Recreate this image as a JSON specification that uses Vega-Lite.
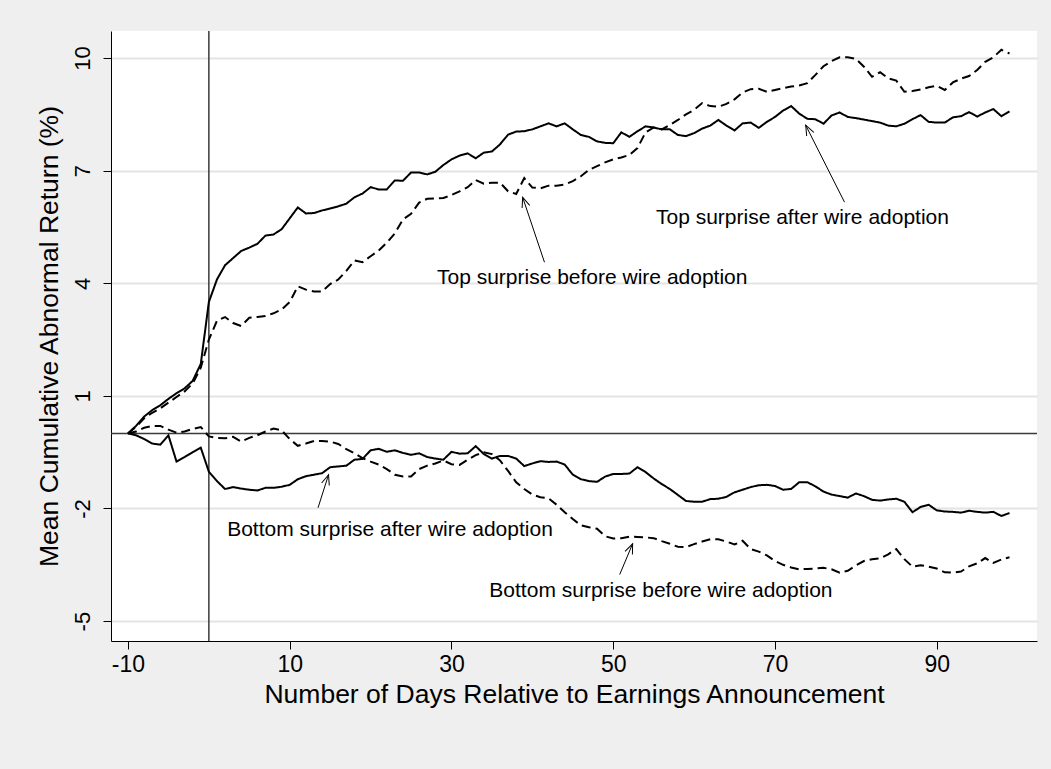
{
  "$schema": "https://vega.github.io/schema/vega-lite/v6.json",
  "width": 926,
  "height": 610,
  "autosize": {"type": "none"},
  "padding": {"left": 111, "top": 31, "right": 14, "bottom": 128},
  "background": "#efefef",
  "config": {
    "view": {"fill": "white", "stroke": null},
    "font": "Liberation Sans"
  },
  "datasets": {
    "series": [
      {"day":-10,"ta":0,"tb":0,"ba":0,"bb":0},
      {"day":-9,"ta":0.2,"tb":0.18,"ba":-0.05,"bb":0.05},
      {"day":-8,"ta":0.45,"tb":0.4,"ba":-0.15,"bb":0.15},
      {"day":-7,"ta":0.62,"tb":0.55,"ba":-0.27,"bb":0.2},
      {"day":-6,"ta":0.75,"tb":0.67,"ba":-0.3,"bb":0.2},
      {"day":-5,"ta":0.92,"tb":0.82,"ba":-0.05,"bb":0.1},
      {"day":-4,"ta":1.07,"tb":0.97,"ba":-0.75,"bb":0.02},
      {"day":-3,"ta":1.2,"tb":1.12,"ba":-0.63,"bb":0.05},
      {"day":-2,"ta":1.4,"tb":1.33,"ba":-0.5,"bb":0.12},
      {"day":-1,"ta":1.85,"tb":1.75,"ba":-0.38,"bb":0.17},
      {"day":0,"ta":3.5,"tb":2.5,"ba":-1.02,"bb":-0.08},
      {"day":1,"ta":4.1,"tb":3.0,"ba":-1.27,"bb":-0.12},
      {"day":2,"ta":4.48,"tb":3.1,"ba":-1.48,"bb":-0.13},
      {"day":3,"ta":4.67,"tb":2.94,"ba":-1.43,"bb":-0.09},
      {"day":4,"ta":4.86,"tb":2.86,"ba":-1.47,"bb":-0.22},
      {"day":5,"ta":4.95,"tb":3.08,"ba":-1.5,"bb":-0.12},
      {"day":6,"ta":5.05,"tb":3.1,"ba":-1.52,"bb":-0.05},
      {"day":7,"ta":5.27,"tb":3.13,"ba":-1.45,"bb":0.05},
      {"day":8,"ta":5.3,"tb":3.2,"ba":-1.45,"bb":0.13},
      {"day":9,"ta":5.44,"tb":3.3,"ba":-1.42,"bb":0.08},
      {"day":10,"ta":5.73,"tb":3.5,"ba":-1.37,"bb":-0.15},
      {"day":11,"ta":6.02,"tb":3.92,"ba":-1.22,"bb":-0.33},
      {"day":12,"ta":5.86,"tb":3.83,"ba":-1.14,"bb":-0.27},
      {"day":13,"ta":5.87,"tb":3.78,"ba":-1.1,"bb":-0.2},
      {"day":14,"ta":5.94,"tb":3.78,"ba":-1.06,"bb":-0.2},
      {"day":15,"ta":5.99,"tb":3.98,"ba":-0.9,"bb":-0.22},
      {"day":16,"ta":6.05,"tb":4.1,"ba":-0.88,"bb":-0.28},
      {"day":17,"ta":6.12,"tb":4.33,"ba":-0.86,"bb":-0.42},
      {"day":18,"ta":6.29,"tb":4.61,"ba":-0.7,"bb":-0.53},
      {"day":19,"ta":6.39,"tb":4.56,"ba":-0.68,"bb":-0.66},
      {"day":20,"ta":6.56,"tb":4.72,"ba":-0.45,"bb":-0.75},
      {"day":21,"ta":6.5,"tb":4.87,"ba":-0.41,"bb":-0.83},
      {"day":22,"ta":6.5,"tb":5.08,"ba":-0.49,"bb":-0.95},
      {"day":23,"ta":6.74,"tb":5.33,"ba":-0.45,"bb":-1.1},
      {"day":24,"ta":6.73,"tb":5.7,"ba":-0.52,"bb":-1.15},
      {"day":25,"ta":6.95,"tb":5.85,"ba":-0.57,"bb":-1.15},
      {"day":26,"ta":6.95,"tb":6.15,"ba":-0.53,"bb":-0.95},
      {"day":27,"ta":6.9,"tb":6.25,"ba":-0.63,"bb":-0.86},
      {"day":28,"ta":6.97,"tb":6.26,"ba":-0.67,"bb":-0.8},
      {"day":29,"ta":7.15,"tb":6.27,"ba":-0.7,"bb":-0.72},
      {"day":30,"ta":7.3,"tb":6.35,"ba":-0.49,"bb":-0.82},
      {"day":31,"ta":7.4,"tb":6.45,"ba":-0.54,"bb":-0.84},
      {"day":32,"ta":7.46,"tb":6.56,"ba":-0.53,"bb":-0.7},
      {"day":33,"ta":7.33,"tb":6.75,"ba":-0.34,"bb":-0.58},
      {"day":34,"ta":7.48,"tb":6.65,"ba":-0.55,"bb":-0.5},
      {"day":35,"ta":7.51,"tb":6.68,"ba":-0.67,"bb":-0.55},
      {"day":36,"ta":7.7,"tb":6.68,"ba":-0.6,"bb":-0.72},
      {"day":37,"ta":7.96,"tb":6.45,"ba":-0.6,"bb":-1.0},
      {"day":38,"ta":8.04,"tb":6.38,"ba":-0.67,"bb":-1.3},
      {"day":39,"ta":8.05,"tb":6.8,"ba":-0.87,"bb":-1.48},
      {"day":40,"ta":8.1,"tb":6.55,"ba":-0.8,"bb":-1.63},
      {"day":41,"ta":8.18,"tb":6.53,"ba":-0.74,"bb":-1.7},
      {"day":42,"ta":8.26,"tb":6.6,"ba":-0.76,"bb":-1.73},
      {"day":43,"ta":8.18,"tb":6.6,"ba":-0.75,"bb":-1.9},
      {"day":44,"ta":8.26,"tb":6.63,"ba":-0.83,"bb":-2.1},
      {"day":45,"ta":8.1,"tb":6.72,"ba":-1.1,"bb":-2.28},
      {"day":46,"ta":7.95,"tb":6.85,"ba":-1.22,"bb":-2.45},
      {"day":47,"ta":7.9,"tb":7.02,"ba":-1.27,"bb":-2.5},
      {"day":48,"ta":7.78,"tb":7.12,"ba":-1.29,"bb":-2.54},
      {"day":49,"ta":7.74,"tb":7.22,"ba":-1.15,"bb":-2.74},
      {"day":50,"ta":7.73,"tb":7.3,"ba":-1.08,"bb":-2.8},
      {"day":51,"ta":8.02,"tb":7.35,"ba":-1.08,"bb":-2.79},
      {"day":52,"ta":7.9,"tb":7.42,"ba":-1.07,"bb":-2.75},
      {"day":53,"ta":8.05,"tb":7.6,"ba":-0.9,"bb":-2.76},
      {"day":54,"ta":8.18,"tb":8.02,"ba":-1.03,"bb":-2.77},
      {"day":55,"ta":8.15,"tb":8.15,"ba":-1.2,"bb":-2.79},
      {"day":56,"ta":8.1,"tb":8.1,"ba":-1.35,"bb":-2.87},
      {"day":57,"ta":8.1,"tb":8.22,"ba":-1.48,"bb":-2.94},
      {"day":58,"ta":7.95,"tb":8.35,"ba":-1.64,"bb":-3.02},
      {"day":59,"ta":7.92,"tb":8.5,"ba":-1.8,"bb":-3.03},
      {"day":60,"ta":8.0,"tb":8.62,"ba":-1.82,"bb":-2.95},
      {"day":61,"ta":8.12,"tb":8.8,"ba":-1.82,"bb":-2.88},
      {"day":62,"ta":8.2,"tb":8.72,"ba":-1.75,"bb":-2.82},
      {"day":63,"ta":8.35,"tb":8.7,"ba":-1.74,"bb":-2.82},
      {"day":64,"ta":8.2,"tb":8.78,"ba":-1.69,"bb":-2.88},
      {"day":65,"ta":8.07,"tb":8.9,"ba":-1.57,"bb":-2.96},
      {"day":66,"ta":8.26,"tb":9.08,"ba":-1.5,"bb":-2.86},
      {"day":67,"ta":8.28,"tb":9.17,"ba":-1.43,"bb":-3.08},
      {"day":68,"ta":8.14,"tb":9.18,"ba":-1.38,"bb":-3.15},
      {"day":69,"ta":8.3,"tb":9.1,"ba":-1.37,"bb":-3.25},
      {"day":70,"ta":8.43,"tb":9.15,"ba":-1.4,"bb":-3.4},
      {"day":71,"ta":8.6,"tb":9.2,"ba":-1.5,"bb":-3.5},
      {"day":72,"ta":8.72,"tb":9.24,"ba":-1.48,"bb":-3.57},
      {"day":73,"ta":8.52,"tb":9.27,"ba":-1.3,"bb":-3.62},
      {"day":74,"ta":8.38,"tb":9.33,"ba":-1.3,"bb":-3.61},
      {"day":75,"ta":8.37,"tb":9.55,"ba":-1.41,"bb":-3.6},
      {"day":76,"ta":8.25,"tb":9.78,"ba":-1.55,"bb":-3.58},
      {"day":77,"ta":8.47,"tb":9.92,"ba":-1.63,"bb":-3.62},
      {"day":78,"ta":8.55,"tb":10.02,"ba":-1.67,"bb":-3.71},
      {"day":79,"ta":8.43,"tb":10.02,"ba":-1.71,"bb":-3.66},
      {"day":80,"ta":8.4,"tb":9.98,"ba":-1.6,"bb":-3.52},
      {"day":81,"ta":8.36,"tb":9.77,"ba":-1.67,"bb":-3.4},
      {"day":82,"ta":8.32,"tb":9.5,"ba":-1.77,"bb":-3.35},
      {"day":83,"ta":8.28,"tb":9.62,"ba":-1.79,"bb":-3.33},
      {"day":84,"ta":8.2,"tb":9.46,"ba":-1.76,"bb":-3.22},
      {"day":85,"ta":8.18,"tb":9.4,"ba":-1.74,"bb":-3.08},
      {"day":86,"ta":8.25,"tb":9.1,"ba":-1.82,"bb":-3.35},
      {"day":87,"ta":8.37,"tb":9.12,"ba":-2.1,"bb":-3.55},
      {"day":88,"ta":8.48,"tb":9.16,"ba":-1.96,"bb":-3.51},
      {"day":89,"ta":8.3,"tb":9.22,"ba":-1.9,"bb":-3.55},
      {"day":90,"ta":8.28,"tb":9.26,"ba":-2.05,"bb":-3.6},
      {"day":91,"ta":8.28,"tb":9.15,"ba":-2.08,"bb":-3.7},
      {"day":92,"ta":8.42,"tb":9.35,"ba":-2.09,"bb":-3.71},
      {"day":93,"ta":8.45,"tb":9.45,"ba":-2.11,"bb":-3.68},
      {"day":94,"ta":8.56,"tb":9.52,"ba":-2.06,"bb":-3.54},
      {"day":95,"ta":8.44,"tb":9.68,"ba":-2.09,"bb":-3.46},
      {"day":96,"ta":8.55,"tb":9.9,"ba":-2.11,"bb":-3.32},
      {"day":97,"ta":8.64,"tb":10.02,"ba":-2.09,"bb":-3.45},
      {"day":98,"ta":8.45,"tb":10.22,"ba":-2.2,"bb":-3.36},
      {"day":99,"ta":8.58,"tb":10.12,"ba":-2.12,"bb":-3.3}
    ],
    "labels": [
      {"day":73.4,"car":5.73,"text":"Top surprise after wire adoption"},
      {"day":47.4,"car":4.14,"text":"Top surprise before wire adoption"},
      {"day":22.4,"car":-2.56,"text":"Bottom surprise after wire adoption"},
      {"day":55.9,"car":-4.21,"text":"Bottom surprise before wire adoption"}
    ],
    "arrows": [
      {"day":78.6,"car":6.16,"day2":73.8,"car2":8.21,"dir":333},
      {"day":41.5,"car":4.56,"day2":38.8,"car2":6.29,"dir":341},
      {"day":13.5,"car":-1.98,"day2":14.8,"car2":-1.1,"dir":18},
      {"day":50.8,"car":-3.76,"day2":52.4,"car2":-2.94,"dir":23}
    ]
  },
  "layer": [
    {
      "data": {"values": [{"day": 0}]},
      "mark": {"type": "rule", "color": "#3a3a3a", "strokeWidth": 1.5},
      "encoding": {
        "x": {"field": "day", "type": "quantitative", "scale": {"domain": [-12.1, 102.4], "nice": false, "zero": false}}
      }
    },
    {
      "data": {"values": [{"car": 0}]},
      "mark": {"type": "rule", "color": "#3a3a3a", "strokeWidth": 1.5},
      "encoding": {
        "y": {"field": "car", "type": "quantitative", "scale": {"domain": [-5.53, 10.72], "nice": false, "zero": false}}
      }
    },
    {
      "data": {"name": "series"},
      "transform": [{"fold": ["ta", "tb", "ba", "bb"], "as": ["series", "car"]}],
      "mark": {"type": "line", "color": "black", "strokeWidth": 2},
      "encoding": {
        "x": {
          "field": "day", "type": "quantitative",
          "scale": {"domain": [-12.1, 102.4], "nice": false, "zero": false},
          "axis": {
            "values": [-10, 10, 30, 50, 70, 90],
            "labelExpr": "datum.value + ''",
            "title": "Number of Days Relative to Earnings Announcement",
            "grid": false,
            "domainColor": "black", "domainWidth": 1,
            "tickColor": "black", "tickSize": 8, "tickWidth": 1,
            "labelFontSize": 23, "labelColor": "black", "labelPadding": 4,
            "labelFlush": false, "labelOverlap": false,
            "titleFontSize": 26.5, "titleFontWeight": "normal", "titleColor": "black", "titlePadding": 5
          }
        },
        "y": {
          "field": "car", "type": "quantitative",
          "scale": {"domain": [-5.53, 10.72], "nice": false, "zero": false},
          "axis": {
            "values": [-5, -2, 1, 4, 7, 10],
            "labelExpr": "datum.value + ''",
            "title": "Mean Cumulative Abnormal Return (%)",
            "grid": true, "gridColor": "#e4e4e4", "gridWidth": 2,
            "domainColor": "black", "domainWidth": 1,
            "tickColor": "black", "tickSize": 8, "tickWidth": 1,
            "labelFontSize": 22, "labelColor": "black",
            "labelAngle": -90, "labelAlign": "center", "labelBaseline": "alphabetic", "labelPadding": 14,
            "labelFlush": false, "labelOverlap": false,
            "titleFontSize": 26.5, "titleFontWeight": "normal", "titleColor": "black", "titlePadding": 8
          }
        },
        "detail": {"field": "series", "type": "nominal"},
        "strokeDash": {
          "field": "series", "type": "nominal",
          "scale": {"domain": ["ta", "tb", "ba", "bb"], "range": [[1, 0], [9, 5], [1, 0], [9, 5]]},
          "legend": null
        }
      }
    },
    {
      "data": {"name": "arrows"},
      "mark": {"type": "rule", "color": "black", "strokeWidth": 1},
      "encoding": {
        "x": {"field": "day", "type": "quantitative", "scale": {"domain": [-12.1, 102.4], "nice": false, "zero": false}},
        "y": {"field": "car", "type": "quantitative", "scale": {"domain": [-5.53, 10.72], "nice": false, "zero": false}},
        "x2": {"field": "day2"},
        "y2": {"field": "car2"}
      }
    },
    {
      "data": {"name": "arrows"},
      "mark": {"type": "point", "shape": "M-0.4,1L0,0L0.4,1", "filled": false, "stroke": "black", "strokeWidth": 1, "size": 400, "opacity": 1},
      "encoding": {
        "x": {"field": "day2", "type": "quantitative", "scale": {"domain": [-12.1, 102.4], "nice": false, "zero": false}},
        "y": {"field": "car2", "type": "quantitative", "scale": {"domain": [-5.53, 10.72], "nice": false, "zero": false}},
        "angle": {"field": "dir", "type": "quantitative", "scale": null}
      }
    },
    {
      "data": {"name": "labels"},
      "mark": {"type": "text", "fontSize": 21, "color": "black", "align": "center", "baseline": "middle"},
      "encoding": {
        "x": {"field": "day", "type": "quantitative", "scale": {"domain": [-12.1, 102.4], "nice": false, "zero": false}},
        "y": {"field": "car", "type": "quantitative", "scale": {"domain": [-5.53, 10.72], "nice": false, "zero": false}},
        "text": {"field": "text"}
      }
    }
  ]
}
